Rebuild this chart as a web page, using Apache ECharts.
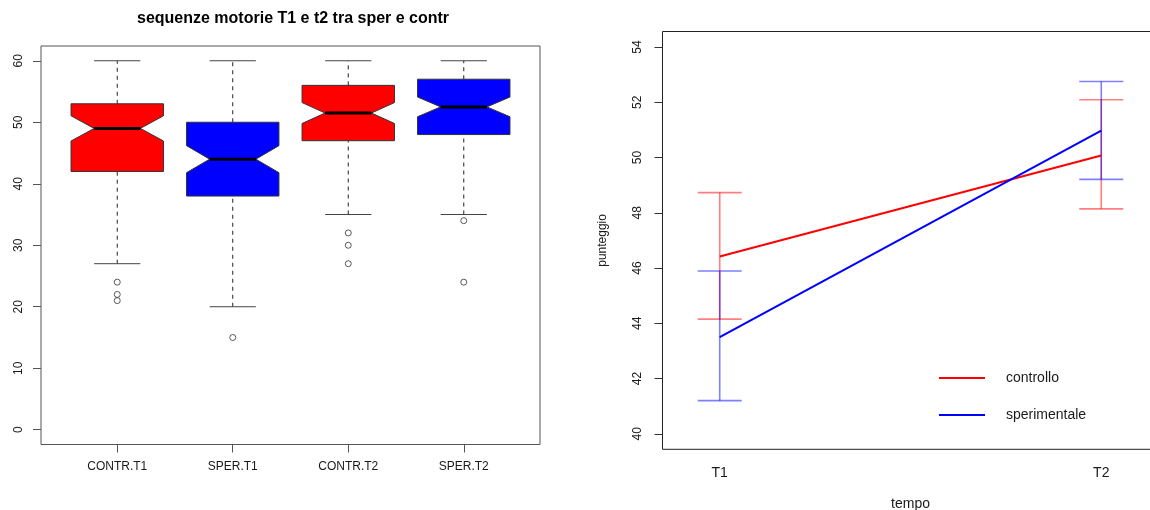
<!DOCTYPE html>
<html>
<head>
<meta charset="utf-8">
<script src="https://cdn.jsdelivr.net/npm/echarts@6/dist/echarts.min.js"></script>
<style>
html,body{margin:0;padding:0;background:#fff;}
#chart{width:1150px;height:510px;}
</style>
</head>
<body>
<div id="chart"></div>
<script>
// ---- Left panel: notched boxplots ----
const categories = ['CONTR.T1', 'SPER.T1', 'CONTR.T2', 'SPER.T2'];
const boxMin = [27, 20, 35, 35];
const boxQ1 = [42, 38, 47, 48];
const boxMedian = [49, 44, 51.5, 52.5];
const boxQ3 = [53, 50, 56, 57];
const boxMax = [60, 60, 60, 60];
const notchHalf = [2.05, 2.2, 1.7, 1.6];
const boxColors = ['#ff0000', '#0000ff', '#ff0000', '#0000ff'];
const outlierPoints = [[1, 24], [1, 22], [1, 21], [2, 15], [3, 32], [3, 30], [3, 27], [4, 34], [4, 24]];
const leftTicks = [0, 10, 20, 30, 40, 50, 60];

// ---- Right panel: means with error bars ----
const timeLabels = ['T1', 'T2'];
const controlloMean = [46.42, 50.07];
const controlloLow = [44.15, 48.14];
const controlloHigh = [48.73, 52.09];
const speriMean = [43.5, 50.97];
const speriLow = [41.2, 49.21];
const speriHigh = [45.89, 52.75];
const rightTicks = [40, 42, 44, 46, 48, 50, 52, 54];

const FONT = '"Liberation Sans", Arial, sans-serif';
const TXT = '#1a1a1a';

const boxData = categories.map((c, i) => [i + 1, boxMin[i], boxQ1[i], boxMedian[i], boxQ3[i], boxMax[i], notchHalf[i], i]);

function renderBox(params, api) {
  const x = api.value(0);
  const mn = api.value(1), q1 = api.value(2), md = api.value(3), q3 = api.value(4), mx = api.value(5), nh = api.value(6);
  const idx = api.value(7);
  const P = (dx, v) => api.coord([x + dx, v]);
  const bw = 0.4, nw = 0.2, cw = 0.2;
  const poly = [
    P(-bw, q3), P(bw, q3), P(bw, md + nh), P(nw, md), P(bw, md - nh), P(bw, q1),
    P(-bw, q1), P(-bw, md - nh), P(-nw, md), P(-bw, md + nh)
  ];
  const line = (a, b, dashed, w, c) => ({
    type: 'line',
    shape: { x1: a[0], y1: a[1], x2: b[0], y2: b[1] },
    style: { stroke: c || '#000', lineWidth: w || 1, lineDash: dashed ? [4, 4] : null }
  });
  return {
    type: 'group',
    children: [
      line(P(0, q3), P(0, mx), true, 1, '#222'),
      line(P(0, mn), P(0, q1), true, 1, '#222'),
      line(P(-cw, mx), P(cw, mx), false, 1, '#444'),
      line(P(-cw, mn), P(cw, mn), false, 1, '#444'),
      { type: 'polygon', shape: { points: poly }, style: { fill: boxColors[idx], stroke: '#333', lineWidth: 1 } },
      line(P(-nw, md), P(nw, md), false, 3, '#000')
    ]
  };
}

function errData(mean, low, high) {
  return mean.map((m, i) => [i + 1, low[i], high[i]]);
}
function makeErrRender(color) {
  return function (params, api) {
    const x = api.value(0);
    const lo = api.coord([x, api.value(1)]);
    const hi = api.coord([x, api.value(2)]);
    const cap = 22;
    const st = { stroke: color, lineWidth: 1.6 };
    return {
      type: 'group',
      children: [
        { type: 'line', shape: { x1: lo[0], y1: lo[1], x2: hi[0], y2: hi[1] }, style: st },
        { type: 'line', shape: { x1: lo[0] - cap, y1: lo[1], x2: lo[0] + cap, y2: lo[1] }, style: st },
        { type: 'line', shape: { x1: hi[0] - cap, y1: hi[1], x2: hi[0] + cap, y2: hi[1] }, style: st }
      ]
    };
  };
}

const chart = echarts.init(document.getElementById('chart'), null, { renderer: 'canvas' });
chart.setOption({
  animation: false,
  backgroundColor: '#fff',
  textStyle: { fontFamily: FONT },
  title: {
    text: 'sequenze motorie T1 e t2 tra sper e contr',
    left: 132, top: 6,
    textStyle: { fontFamily: FONT, fontSize: 16, fontWeight: 'bold', color: '#000' }
  },
  legend: {
    data: ['controllo', 'sperimentale'],
    orient: 'vertical',
    left: 934, top: 366,
    icon: 'rect', itemWidth: 46, itemHeight: 2, itemGap: 23,
    textStyle: { fontFamily: FONT, fontSize: 14, color: TXT, padding: [3, 0, 0, 16] }
  },
  grid: [
    { left: 41, top: 46, width: 499, height: 398.5, show: true, borderColor: '#555', borderWidth: 1, backgroundColor: 'transparent', outerBoundsMode: 'none' },
    { left: 662.5, top: 31.5, width: 496, height: 417.8, show: true, borderColor: '#222', borderWidth: 1, backgroundColor: 'transparent', outerBoundsMode: 'none' }
  ],
  xAxis: [
    {
      gridIndex: 0, type: 'value', min: 0.34, max: 4.66,
      axisLine: { show: false, onZero: false }, splitLine: { show: false },
      axisTick: { show: true, customValues: [1, 2, 3, 4], length: 8, lineStyle: { color: '#555' } },
      axisLabel: { customValues: [1, 2, 3, 4], formatter: v => categories[Math.round(v) - 1], margin: 16, fontSize: 12, color: TXT, fontFamily: FONT }
    },
    {
      gridIndex: 1, type: 'value', min: 0.85, max: 2.15,
      name: 'tempo', nameLocation: 'middle', nameGap: 48,
      nameTextStyle: { fontSize: 14, color: TXT, fontFamily: FONT },
      axisLine: { show: false, onZero: false }, splitLine: { show: false },
      axisTick: { show: false },
      axisLabel: { customValues: [1, 2], formatter: v => timeLabels[Math.round(v) - 1], margin: 17, fontSize: 14, color: TXT, fontFamily: FONT }
    }
  ],
  yAxis: [
    {
      gridIndex: 0, type: 'value', min: -2.4, max: 62.4,
      axisLine: { show: false, onZero: false }, splitLine: { show: false },
      axisTick: { show: true, customValues: leftTicks, length: 8, lineStyle: { color: '#555' } },
      axisLabel: { customValues: leftTicks, rotate: 90, margin: 16, fontSize: 12, color: TXT, fontFamily: FONT }
    },
    {
      gridIndex: 1, type: 'value', min: 39.44, max: 54.56,
      name: 'punteggio', nameLocation: 'middle', nameGap: 54, nameRotate: 90,
      nameTextStyle: { fontSize: 12, color: TXT, fontFamily: FONT },
      axisLine: { show: false, onZero: false }, splitLine: { show: false },
      axisTick: { show: true, customValues: rightTicks, length: 8, lineStyle: { color: '#333' } },
      axisLabel: { customValues: rightTicks, rotate: 90, margin: 19, fontSize: 12, color: TXT, fontFamily: FONT }
    }
  ],
  series: [
    {
      type: 'custom', name: 'boxes', xAxisIndex: 0, yAxisIndex: 0,
      renderItem: renderBox, data: boxData, encode: { x: 0, y: [1, 5] }, z: 2
    },
    {
      type: 'scatter', name: 'outliers', xAxisIndex: 0, yAxisIndex: 0,
      data: outlierPoints, symbol: 'circle', symbolSize: 6,
      itemStyle: { color: 'transparent', borderColor: '#333', borderWidth: 1 }, z: 3
    },
    {
      type: 'custom', name: 'err controllo', xAxisIndex: 1, yAxisIndex: 1,
      renderItem: makeErrRender('rgba(255,0,0,0.5)'), data: errData(controlloMean, controlloLow, controlloHigh),
      encode: { x: 0, y: [1, 2] }, z: 2
    },
    {
      type: 'custom', name: 'err sperimentale', xAxisIndex: 1, yAxisIndex: 1,
      renderItem: makeErrRender('rgba(0,0,255,0.5)'), data: errData(speriMean, speriLow, speriHigh),
      encode: { x: 0, y: [1, 2] }, z: 2
    },
    {
      type: 'line', name: 'controllo', xAxisIndex: 1, yAxisIndex: 1,
      data: controlloMean.map((m, i) => [i + 1, m]), symbol: 'none',
      lineStyle: { color: '#ff0000', width: 2 }, itemStyle: { color: '#ff0000' }, z: 3
    },
    {
      type: 'line', name: 'sperimentale', xAxisIndex: 1, yAxisIndex: 1,
      data: speriMean.map((m, i) => [i + 1, m]), symbol: 'none',
      lineStyle: { color: '#0000ff', width: 2 }, itemStyle: { color: '#0000ff' }, z: 3
    }
  ]
});
</script>
</body>
</html>
